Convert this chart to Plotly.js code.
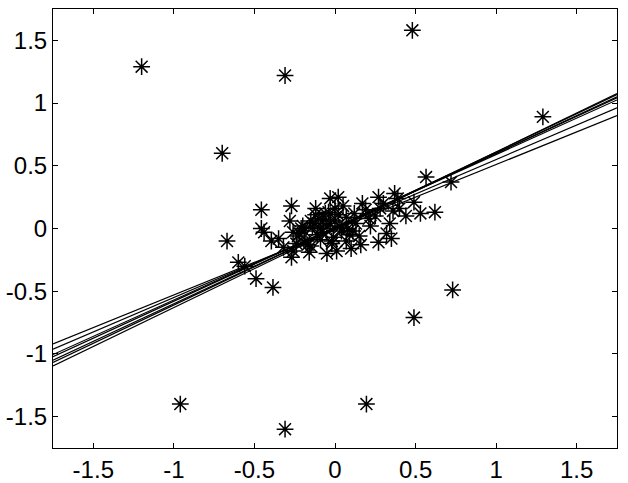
<!DOCTYPE html>
<html><head><meta charset="utf-8">
<script src="https://cdn.plot.ly/plotly-3.0.1.min.js"></script>
<style>html,body{margin:0;padding:0;background:#fff}#chart{width:628px;height:483px}</style>
</head><body><div id="chart"></div>
<script>
// Scatter data
const xPts = [-1.20,-0.31,0.48,1.29,-0.70,0.73,0.49,-0.96,0.195,-0.31,
  -0.67,-0.457,-0.27,-0.457,-0.44,-0.395,-0.60,-0.56,-0.49,-0.385,
  -0.28,-0.27,-0.26,-0.03,0.02,-0.12,0.17,0.27,0.37,0.39,
  0.565,0.72,0.49,0.53,0.62,0.36,0.34,0.35,0.27,0.15,
  0.10,0.01,-0.05,-0.16,-0.22,-0.18,-0.14,-0.10,-0.03,0.03,
  0.07,0.13,0.21,0.19,-0.01,-0.09,0.07,-0.32,-0.24,-0.20,
  -0.06,0.05,0.11,0.25,0.30,0.40,-0.15,0.00,0.08,-0.08,
  0.32,0.44,-0.35,-0.23,0.16,-0.02,0.22,-0.12,
  -0.19,-0.13,-0.07,-0.04,0.02,-0.17,-0.11,-0.05,0.04,-0.21,
  -0.09,-0.15,0.00,-0.02,0.09,-0.26,0.12,0.28];
const yPts = [1.29,1.22,1.58,0.89,0.60,-0.49,-0.71,-1.40,-1.40,-1.60,
  -0.10,0.149,0.18,0.00,-0.03,-0.10,-0.27,-0.30,-0.40,-0.47,
  0.06,-0.23,-0.18,0.24,0.25,0.16,0.20,0.25,0.28,0.24,
  0.41,0.37,0.21,0.12,0.13,0.14,0.04,-0.08,-0.11,-0.06,
  -0.16,-0.18,-0.20,-0.19,-0.04,-0.10,0.01,0.08,0.04,0.01,
  0.09,0.04,0.08,0.15,-0.07,-0.09,-0.10,-0.15,-0.12,0.02,
  0.12,0.18,-0.02,0.10,0.20,0.16,-0.14,0.06,0.00,-0.03,
  -0.04,0.10,-0.08,-0.06,-0.13,-0.12,0.02,0.11,
  -0.02,0.04,0.07,0.13,0.11,-0.13,-0.05,0.02,-0.02,0.00,
  0.00,0.06,0.16,-0.10,-0.05,-0.03,0.12,0.16];
// Fitted lines: slope and intercept of each
const slopes = [0.52,0.55,0.58,0.59,0.60,0.61,0.62];
const intercepts = [-0.01,0.00,0.01,0.01,0.00,0.00,-0.01];
const xSpan = [-1.75,1.75];
const xTicks = [-1.5,-1,-0.5,0,0.5,1,1.5];
const xTickText = ['-1.5','-1','-0.5','0','0.5','1','1.5'];
const yTicks = [-1.5,-1,-0.5,0,0.5,1,1.5];
const yTickText = ['-1.5','-1','-0.5','0','0.5','1','1.5'];

const traces = slopes.map((m,i)=>({
  x: xSpan, y: xSpan.map(v=>m*v+intercepts[i]), mode:'lines', type:'scatter',
  line:{color:'#000',width:1.2}, hoverinfo:'skip', showlegend:false
}));
traces.push({x:xPts,y:yPts,mode:'markers',type:'scatter',
  marker:{symbol:'asterisk-open',size:14,color:'#000',line:{color:'#000',width:1.5}},showlegend:false});

const ax = {showgrid:false,zeroline:false,showline:true,mirror:'ticks',linecolor:'#000',linewidth:1,
  ticks:'inside',ticklen:5,tickcolor:'#000',tickfont:{family:'Liberation Sans, Arial, sans-serif',size:24,color:'#000'}};
const layout = {
  width:628,height:483,margin:{l:53,r:11,t:9,b:35},paper_bgcolor:'#fff',plot_bgcolor:'#fff',
  xaxis:Object.assign({},ax,{range:[-1.75,1.75],tickvals:xTicks,ticktext:xTickText}),
  yaxis:Object.assign({},ax,{range:[-1.75,1.75],tickvals:yTicks,ticktext:yTickText}),
  showlegend:false
};
Plotly.newPlot('chart',traces,layout,{displayModeBar:false,staticPlot:true});
</script></body></html>
